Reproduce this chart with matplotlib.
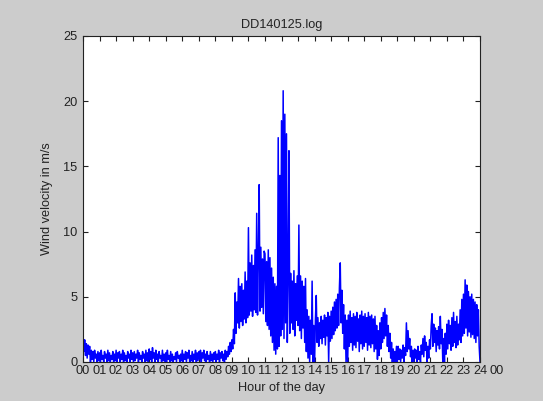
import numpy as np
import matplotlib
matplotlib.use("Agg")
import matplotlib.pyplot as plt
import matplotlib.transforms as mtransforms

plt.rcParams['font.family'] = ['Liberation Sans', 'DejaVu Sans']

title = "DD140125.log"
x_label = "Hour of the day"
y_label = "Wind velocity in m/s"
hour_labels = ["00", "01", "02", "03", "04", "05", "06", "07", "08", "09", "10", "11",
               "12", "13", "14", "15", "16", "17", "18", "19", "20", "21", "22", "23",
               "24", "00"]
y_ticks = [0, 5, 10, 15, 20, 25]

# wind speed readings, 20 per hour (every 3 minutes), hour by hour
speed_by_hour = [
    [1.9, 0.8, 1.7, 0.5, 1.4, 0.3, 1.3, 0.6, 1.2, 0.0, 0.9, 0.2, 0.8, 0.0, 0.9, 0.3, 0.6, 0.0, 0.8, 0.1],
    [0.7, 0.0, 0.9, 0.2, 0.5, 0.0, 0.8, 0.3, 0.6, 0.0, 0.9, 0.1, 0.7, 0.0, 0.5, 0.2, 0.8, 0.0, 0.6, 0.1],
    [0.9, 0.0, 0.7, 0.3, 0.8, 0.0, 0.6, 0.2, 0.9, 0.0, 0.7, 0.1, 0.5, 0.0, 0.8, 0.3, 0.6, 0.0, 0.9, 0.2],
    [0.7, 0.0, 0.8, 0.1, 0.6, 0.3, 0.9, 0.0, 0.7, 0.2, 0.5, 0.0, 0.8, 0.3, 0.6, 0.0, 0.9, 0.1, 0.7, 0.0],
    [1.0, 0.2, 0.8, 0.0, 1.1, 0.3, 0.7, 0.0, 0.9, 0.2, 0.6, 0.0, 0.8, 0.3, 0.5, 0.0, 0.9, 0.1, 0.6, 0.0],
    [0.7, 0.0, 0.9, 0.2, 0.5, 0.0, 0.8, 0.1, 0.6, 0.0, 0.4, 0.2, 0.7, 0.0, 0.8, 0.3, 0.5, 0.0, 0.6, 0.1],
    [0.9, 0.0, 0.6, 0.2, 0.8, 0.0, 0.7, 0.3, 0.9, 0.0, 0.5, 0.1, 0.8, 0.0, 0.6, 0.2, 0.9, 0.0, 0.7, 0.1],
    [0.8, 0.2, 0.9, 0.0, 0.7, 0.3, 0.9, 0.1, 0.6, 0.0, 0.8, 0.2, 0.5, 0.0, 0.8, 0.1, 0.6, 0.0, 0.7, 0.2],
    [0.8, 0.0, 0.6, 0.2, 0.9, 0.0, 0.7, 0.3, 0.8, 0.1, 0.6, 0.0, 0.9, 0.2, 0.8, 0.4, 1.2, 0.6, 1.5, 0.8],
    [1.7, 1.0, 2.5, 1.4, 5.3, 2.2, 4.6, 3.0, 6.4, 2.6, 5.8, 3.1, 6.0, 2.8, 5.5, 3.3, 6.9, 3.0, 6.2, 3.4],
    [10.3, 3.6, 7.6, 3.9, 8.2, 3.5, 7.4, 4.0, 8.6, 3.8, 11.4, 3.6, 8.0, 13.6, 3.9, 8.8, 4.2, 7.9, 3.7, 8.5],
    [8.3, 3.1, 7.7, 2.8, 8.6, 2.5, 8.0, 2.0, 7.2, 1.5, 6.5, 0.9, 6.0, 0.6, 5.8, 1.0, 17.2, 1.2, 14.3, 2.0],
    [18.5, 2.5, 20.8, 1.8, 19.0, 3.0, 17.5, 1.5, 6.5, 16.2, 2.2, 6.8, 3.0, 6.2, 2.5, 7.0, 2.0, 6.0, 3.2, 6.6],
    [2.8, 10.5, 2.4, 6.6, 1.8, 6.2, 2.6, 5.8, 1.5, 6.4, 0.8, 4.0, 0.3, 3.5, 0.0, 3.2, 0.6, 6.2, 0.0, 2.8],
    [0.0, 3.3, 5.1, 1.5, 3.4, 1.2, 3.0, 1.8, 3.5, 1.4, 3.2, 1.9, 3.6, 1.3, 3.4, 2.0, 3.8, 0.0, 3.5, 1.6],
    [3.9, 1.8, 4.2, 2.1, 4.6, 2.4, 4.8, 2.6, 5.2, 2.8, 5.7, 7.6, 3.0, 5.5, 2.2, 4.4, 1.0, 3.6, 0.0, 3.2],
    [0.0, 3.6, 1.2, 3.9, 1.5, 3.4, 0.9, 3.7, 1.3, 3.5, 1.1, 3.8, 1.6, 3.3, 0.8, 3.6, 1.4, 3.9, 1.0, 3.5],
    [1.2, 3.7, 1.5, 3.4, 0.9, 3.8, 1.3, 3.5, 1.1, 3.6, 1.4, 3.3, 0.8, 3.5, 1.0, 2.8, 0.2, 2.4, 0.5, 3.0],
    [1.0, 3.4, 1.5, 3.8, 1.8, 4.1, 2.0, 3.6, 1.2, 2.8, 0.8, 2.2, 0.3, 1.5, 0.0, 1.0, 0.0, 0.8, 0.0, 1.2],
    [0.0, 1.2, 0.2, 1.0, 0.0, 0.9, 0.3, 1.3, 0.0, 1.1, 0.5, 3.0, 0.8, 2.4, 1.0, 1.8, 0.4, 1.2, 0.0, 0.9],
    [0.0, 1.0, 0.3, 0.9, 0.0, 1.2, 0.2, 0.8, 0.0, 1.3, 0.6, 1.8, 0.4, 2.0, 0.9, 1.5, 0.0, 1.2, 0.3, 1.7],
    [1.0, 2.8, 3.7, 1.2, 2.9, 1.5, 2.6, 0.8, 2.4, 1.3, 2.7, 1.0, 3.5, 1.4, 2.5, 0.0, 1.8, 0.0, 2.2, 0.6],
    [2.9, 1.0, 3.2, 1.4, 2.8, 0.9, 3.4, 1.2, 3.8, 1.5, 3.1, 1.1, 3.5, 1.3, 2.9, 1.7, 4.0, 1.5, 4.8, 2.0],
    [5.2, 2.2, 6.3, 2.6, 5.9, 2.0, 5.4, 2.3, 5.0, 1.9, 5.2, 2.1, 4.8, 1.8, 4.6, 1.5, 4.4, 2.0, 4.0, 1.2],
]
speed_end = [0.0]

speed = np.concatenate([np.concatenate(speed_by_hour), speed_end])
hours = np.linspace(0, 24, len(speed))

FS = 9.2
TXT = '#222222'

fig = plt.figure(figsize=(5.43, 4.01), dpi=100, facecolor='#cccccc')
ax = fig.add_axes([0.1529, 0.0973, 0.7311, 0.8130])
ax.set_facecolor('white')

ax.plot(hours, speed, color='#0000ff', lw=1.1)

ax.set_xlim(0, 24)
ax.set_ylim(0, 25)
ax.set_xticks(range(25))
ax.set_xticklabels(hour_labels[:25])
ax.set_yticks(y_ticks)

ax.tick_params(direction='in', length=3.5, width=0.8, top=True, right=True,
               labelsize=FS, colors=TXT)
ax.tick_params(axis='x', pad=2)
ax.tick_params(axis='y', pad=4)

# trailing midnight label past the right edge, on the tick-label baseline
trans = mtransforms.blended_transform_factory(ax.transData, ax.transAxes)
ax.annotate(hour_labels[25], xy=(25, 0), xycoords=trans, xytext=(0, -2),
            textcoords='offset points', ha='center', va='top', fontsize=FS,
            color=TXT, annotation_clip=False)

for s in ax.spines.values():
    s.set_linewidth(0.8)
    s.set_color(TXT)

ax.set_title(title, fontsize=FS, color=TXT, pad=6)
ax.set_xlabel(x_label, fontsize=FS, color=TXT, labelpad=4)
ax.set_ylabel(y_label, fontsize=FS, color=TXT, labelpad=7)

fig.savefig('out.png', dpi=100, facecolor=fig.get_facecolor())
